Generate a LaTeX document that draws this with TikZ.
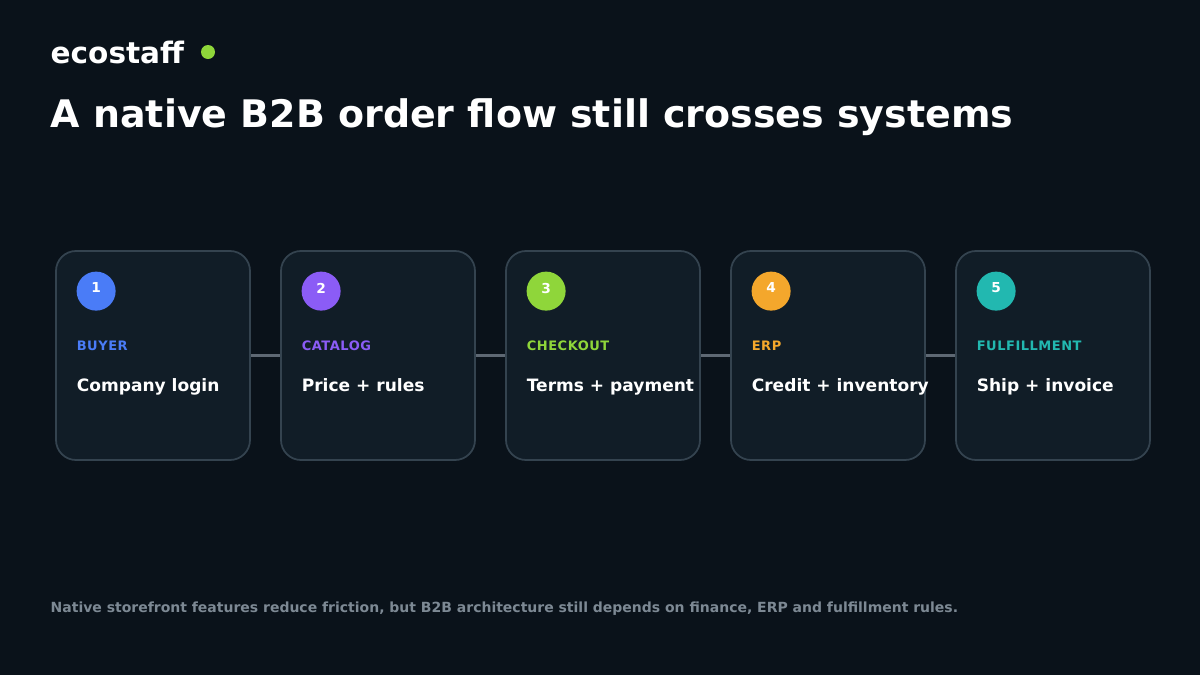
\documentclass[tikz,border=0pt]{standalone}
\usepackage{fontspec}
\setmainfont{DejaVu Sans}
\usetikzlibrary{positioning}
\definecolor{bgdark}{HTML}{0A121A}
\definecolor{cardfill}{HTML}{111D27}
\definecolor{cardline}{HTML}{34434F}
\definecolor{linkgray}{HTML}{5E6873}
\definecolor{footgray}{HTML}{7D8994}
\definecolor{ecogreen}{HTML}{8FD63A}
\definecolor{stepblue}{HTML}{4A7CF7}
\definecolor{steppurple}{HTML}{8B5CF6}
\definecolor{steporange}{HTML}{F4A72C}
\definecolor{stepteal}{HTML}{22B8B0}
\tikzset{
  card/.style={draw=cardline,line width=0.5pt,fill=cardfill,rounded corners=0.2cm,minimum width=1.94cm,minimum height=2.09cm},
  badge/.style={circle,minimum size=0.39cm,inner sep=0pt,text=white,font=\bfseries\fontsize{3.9}{4}\selectfont},
  tag/.style={anchor=base west,inner sep=0pt,font=\bfseries\fontsize{3.7}{4}\selectfont\addfontfeature{LetterSpace=4}},
  what/.style={anchor=base west,inner sep=0pt,text=white,font=\bfseries\fontsize{4.85}{5}\selectfont},
  link/.style={draw=linkgray,line width=0.8pt}
}
\begin{document}
\begin{tikzpicture}[x=1cm,y=1cm]
	\fill[bgdark] (0,0) rectangle (12,-6.75);
	\useasboundingbox (0,0) rectangle (12,-6.75);
	% header
	\node[anchor=base west,inner sep=0pt,text=white,font=\bfseries\fontsize{8.4}{9}\selectfont] (brand) at (0.5,-0.63) {ecostaff};
	\fill[ecogreen] (2.08,-0.52) circle (0.07);
	\node[anchor=base west,inner sep=0pt,text=white,font=\bfseries\fontsize{10.8}{12}\selectfont] (title) at (0.5,-1.27) {A native B2B order flow still crosses systems};
	% cards
	\node[card] (c1) at (1.53,-3.555) {};
	\node[card] (c2) at (3.78,-3.555) {};
	\node[card] (c3) at (6.03,-3.555) {};
	\node[card] (c4) at (8.28,-3.555) {};
	\node[card] (c5) at (10.53,-3.555) {};
	% links
	\draw[link] (c1.east) -- (c2.west);
	\draw[link] (c2.east) -- (c3.west);
	\draw[link] (c3.east) -- (c4.west);
	\draw[link] (c4.east) -- (c5.west);
	% step contents
	\node[badge,fill=stepblue] (n1) at ([xshift=0.41cm,yshift=-0.41cm]c1.north west) {\raisebox{1.8pt}{1}};
	\node[tag,text=stepblue] (t1) at ([xshift=0.21cm,yshift=-1.00cm]c1.north west) {BUYER};
	\node[what] (w1) at ([xshift=0.21cm,yshift=-1.41cm]c1.north west) {Company login};
	\node[badge,fill=steppurple] (n2) at ([xshift=0.41cm,yshift=-0.41cm]c2.north west) {\raisebox{1.8pt}{2}};
	\node[tag,text=steppurple] (t2) at ([xshift=0.21cm,yshift=-1.00cm]c2.north west) {CATALOG};
	\node[what] (w2) at ([xshift=0.21cm,yshift=-1.41cm]c2.north west) {Price + rules};
	\node[badge,fill=ecogreen] (n3) at ([xshift=0.41cm,yshift=-0.41cm]c3.north west) {\raisebox{1.8pt}{3}};
	\node[tag,text=ecogreen] (t3) at ([xshift=0.21cm,yshift=-1.00cm]c3.north west) {CHECKOUT};
	\node[what] (w3) at ([xshift=0.21cm,yshift=-1.41cm]c3.north west) {Terms + payment};
	\node[badge,fill=steporange] (n4) at ([xshift=0.41cm,yshift=-0.41cm]c4.north west) {\raisebox{1.8pt}{4}};
	\node[tag,text=steporange] (t4) at ([xshift=0.21cm,yshift=-1.00cm]c4.north west) {ERP};
	\node[what] (w4) at ([xshift=0.21cm,yshift=-1.41cm]c4.north west) {Credit + inventory};
	\node[badge,fill=stepteal] (n5) at ([xshift=0.41cm,yshift=-0.41cm]c5.north west) {\raisebox{1.8pt}{5}};
	\node[tag,text=stepteal] (t5) at ([xshift=0.21cm,yshift=-1.00cm]c5.north west) {FULFILLMENT};
	\node[what] (w5) at ([xshift=0.21cm,yshift=-1.41cm]c5.north west) {Ship + invoice};
	% footer
	\node[anchor=base west,inner sep=0pt,text=footgray,font=\bfseries\fontsize{3.98}{4.5}\selectfont] (note) at (0.5,-6.12) {Native storefront features reduce friction, but B2B architecture still depends on finance, ERP and fulfillment rules.};
\end{tikzpicture}
\end{document}
